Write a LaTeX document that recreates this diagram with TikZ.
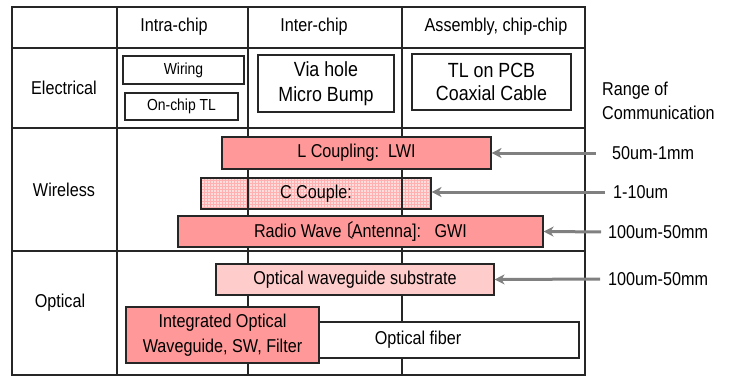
\documentclass[tikz,border=0pt]{standalone}
\usepackage{fontspec}
\setmainfont{Liberation Sans}[FakeStretch=0.87]
\newfontfamily\cjkfont{Noto Sans CJK JP}
\usetikzlibrary{arrows.meta,patterns}
\definecolor{barred}{HTML}{FF9999}
\definecolor{barlight}{HTML}{FFCCCC}
\definecolor{gridbase}{HTML}{FFDDDD}
\definecolor{gridline}{HTML}{FFB0B0}
\definecolor{arrowgray}{HTML}{808080}
\begin{document}
\begin{tikzpicture}[x=1pt,y=-1pt,
  tbl/.style={line width=1.3pt, draw=black!85},
  box/.style={draw=black!85, line width=1.1pt, inner sep=0pt, align=center},
  txt/.style={inner sep=0pt, font=\fontsize{18.6}{24}\selectfont},
  smalltxt/.style={font=\fontsize{16}{19}\selectfont},
  redbar/.style={box, fill=barred, font=\fontsize{18.6}{25}\selectfont},
  lightbar/.style={box, fill=barlight, font=\fontsize{18.6}{25}\selectfont},
  gridbar/.style={box, preaction={fill=gridbase}, pattern=grid, pattern color=gridline, font=\fontsize{18.6}{25}\selectfont},
  garrow/.style={draw=arrowgray, line width=3pt, -{Stealth[length=10pt,width=10pt,inset=3pt]}}
]
\useasboundingbox (0,0) rectangle (739,378);

% C couple bar (semi-transparent: table lines show through)
\node[gridbar, minimum width=230pt, minimum height=31pt] (ccoup) at (316,193.5) {C Couple:};

% table
\draw[tbl] (12,7) rectangle (585,375);
\draw[tbl] (117,7) -- (117,375);
\draw[tbl] (248,7) -- (248,375);
\draw[tbl] (402,7) -- (402,375);
\draw[tbl] (12,48) -- (585,48);
\draw[tbl] (12,128) -- (585,128);
\draw[tbl] (12,251) -- (585,251);

% headers
\node[txt] (hintra) at (174,27) {Intra-chip};
\node[txt] (hinter) at (314,27) {Inter-chip};
\node[txt] (hassy) at (496,27) {Assembly, chip-chip};
\node[txt] (relec) at (64,88) {Electrical};
\node[txt] (rwire) at (64,190) {Wireless};
\node[txt] (ropt) at (60,303) {Optical};

% electrical boxes
\node[box, smalltxt, minimum width=121pt, minimum height=28pt] (wiring) at (183.5,70) {Wiring};
\node[box, smalltxt, minimum width=113pt, minimum height=27pt] (onchip) at (181.5,106.5) {On-chip TL};
\node[box, font=\fontsize{20.5}{25}\selectfont, minimum width=136pt, minimum height=57pt] (via) at (326,83.5) {Via hole\\Micro Bump};
\node[box, font=\fontsize{20.5}{23}\selectfont, minimum width=159pt, minimum height=56pt] (pcb) at (491.5,82) {TL on PCB\\Coaxial Cable};

% wireless bars
\node[redbar, minimum width=269pt, minimum height=32pt] (lcoup) at (356.5,153) {L Coupling:\ \ LWI};
\node[redbar, minimum width=365pt, minimum height=31pt] (radio) at (360.5,231.5) {Radio Wave\kern-0.35em{\cjkfont 〔}\kern-0.1emAntenna]:\ \ \ GWI};

% optical
\node[lightbar, minimum width=278pt, minimum height=31pt] (osub) at (355,279.5) {Optical waveguide substrate};
\node[box, fill=white, minimum width=260pt, minimum height=36pt] (fiber) at (449,340) {};
\node[txt] (fibertxt) at (418,340) {Optical fiber};
\node[redbar, minimum width=193pt, minimum height=56pt] (integ) at (222.5,335) {Integrated Optical\\Waveguide, SW, Filter};

% range labels
\node[txt, anchor=west, align=left] (range) at (602,101) {Range of\\Communication};
\node[txt, anchor=west] (r1) at (612,153) {50um-1mm};
\node[txt, anchor=west] (r2) at (613,192) {1-10um};
\node[txt, anchor=west] (r3) at (608,232) {100um-50mm};
\node[txt, anchor=west] (r4) at (608,279) {100um-50mm};

\draw[garrow, shorten <=16pt] (r1.west) -- (lcoup.east);
\draw[garrow, shorten <=8pt] (r2.west) -- (ccoup.east |- r2.west);
\draw[garrow, shorten <=7pt] (r3.west) -- (radio.east);
\draw[garrow, shorten <=8pt] (r4.west) -- (osub.east);
\end{tikzpicture}
\end{document}
